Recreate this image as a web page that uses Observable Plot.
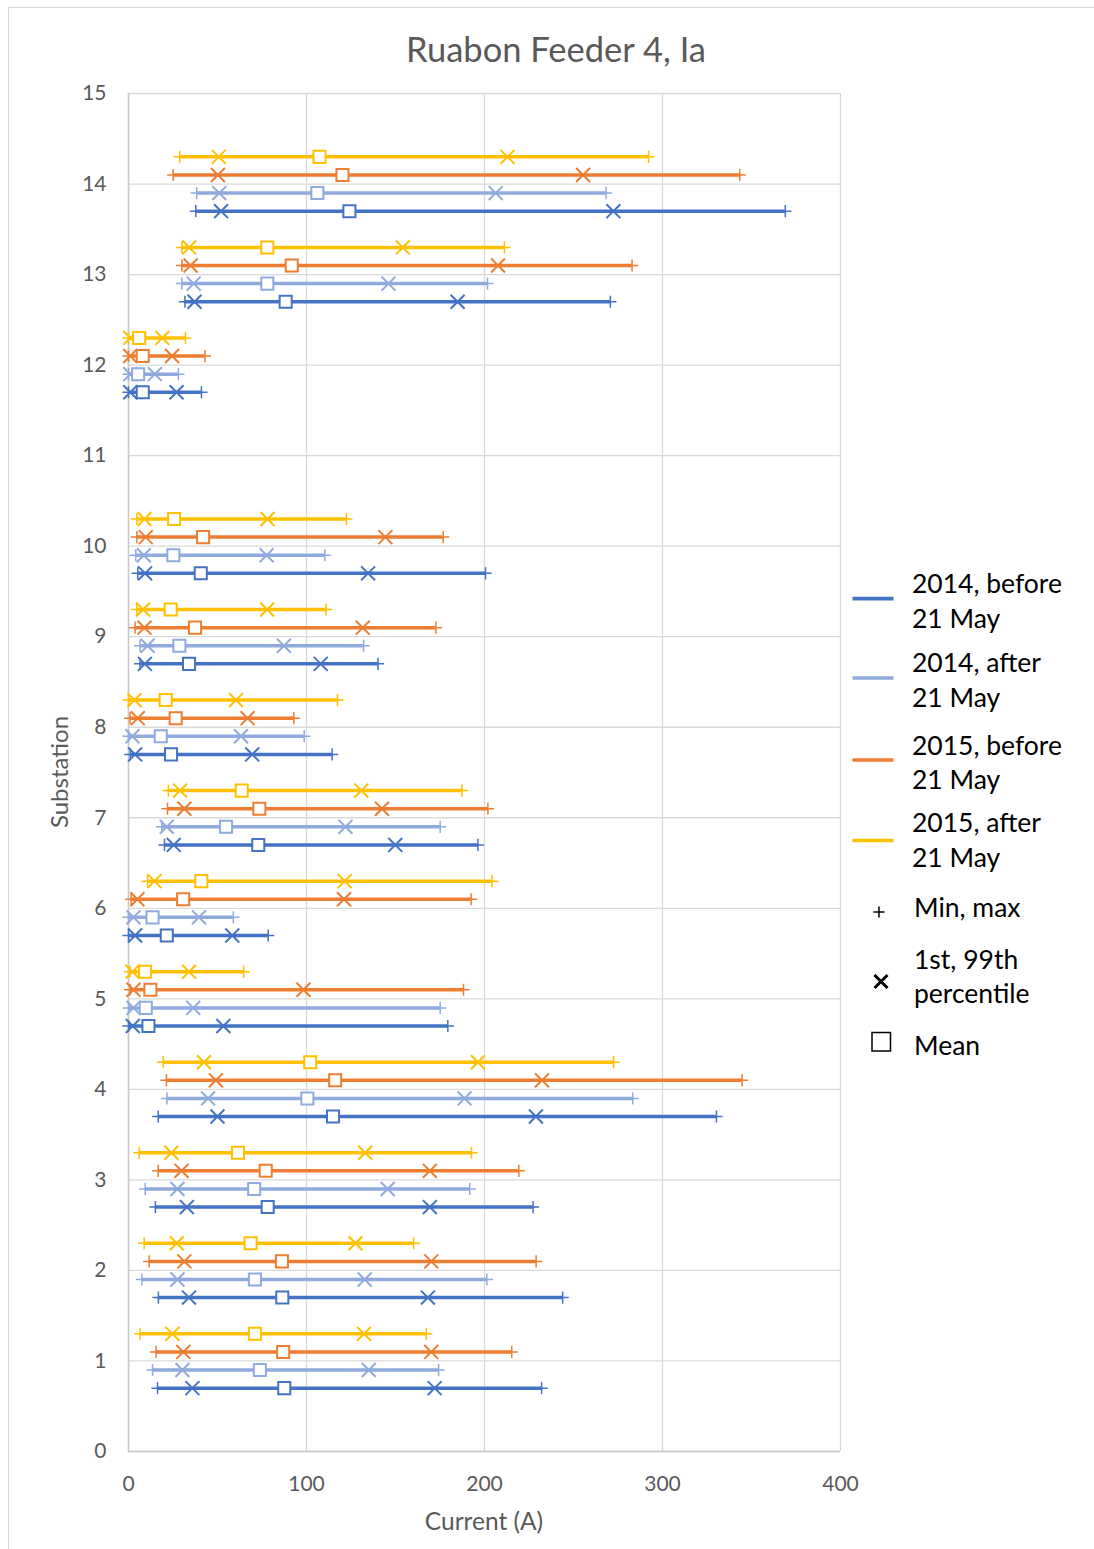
<!DOCTYPE html>
<html>
<head>
<meta charset="utf-8">
<script src="https://cdn.jsdelivr.net/npm/d3@7"></script>
<script src="https://cdn.jsdelivr.net/npm/@observablehq/plot@0.6"></script>
<style>
  html, body { margin: 0; padding: 0; background: #fff; }
  #wrap { position: relative; width: 1094px; height: 1549px; overflow: hidden; font-family: Lato, "Open Sans", sans-serif; }
  #border { position: absolute; left: 8px; top: 7px; width: 1200px; height: 1700px; border: 1.3px solid #d9d9d9; box-sizing: border-box; }
  #chart { position: absolute; left: 0; top: 0; }
  #overlay { position: absolute; left: 0; top: 0; pointer-events: none; }
</style>
</head>
<body>
<div id="wrap">
  <div id="border"></div>
  <div id="chart"></div>
  <svg id="overlay" width="1094" height="1549" xmlns="http://www.w3.org/2000/svg"></svg>
</div>
<script>
// ---- Data ----
const substations = [1, 2, 3, 4, 5, 6, 7, 8, 9, 10, 12, 13, 14];
const seriesNames = ["2014, before 21 May", "2014, after 21 May", "2015, before 21 May", "2015, after 21 May"];
const seriesColors = ["#4472C4", "#8FAADC", "#ED7D31", "#FFC000"];
const xTicks = [0, 100, 200, 300, 400];
const yTicks = [0, 1, 2, 3, 4, 5, 6, 7, 8, 9, 10, 11, 12, 13, 14, 15];

// each entry: [min, 1st percentile, mean, 99th percentile, max] per substation
const s2014before = [
  [16.3, 35.9, 87.5, 172.0, 232.1],
  [16.8, 34.0, 86.4, 168.2, 243.9],
  [15.1, 32.8, 78.2, 169.3, 227.3],
  [16.7, 50.0, 114.9, 228.9, 330.3],
  [0.0, 2.4, 11.2, 53.3, 179.4],
  [0.0, 3.7, 21.5, 58.3, 78.5],
  [20.2, 25.4, 72.9, 149.9, 196.3],
  [1.0, 3.7, 23.9, 69.5, 114.4],
  [6.5, 9.2, 34.0, 108.0, 140.2],
  [5.2, 9.3, 40.6, 134.6, 200.6],
  [0.0, 1.0, 8.0, 27.0, 41.0],
  [31.7, 37.1, 88.3, 184.9, 270.7],
  [37.8, 52.0, 124.1, 272.4, 369.0]
];
const s2014after = [
  [13.5, 30.3, 73.8, 135.0, 174.2],
  [7.5, 27.5, 71.0, 132.7, 201.3],
  [9.4, 27.5, 70.6, 145.6, 191.7],
  [21.6, 44.7, 100.5, 188.8, 283.3],
  [0.0, 2.8, 9.7, 36.4, 175.1],
  [0.0, 2.8, 13.5, 39.6, 58.9],
  [18.7, 21.5, 54.8, 121.9, 175.1],
  [0.0, 2.2, 18.1, 63.2, 98.7],
  [6.5, 10.7, 28.6, 87.3, 132.1],
  [4.1, 8.6, 25.2, 77.6, 110.3],
  [0.0, 1.0, 5.4, 14.8, 28.0],
  [30.0, 36.6, 78.0, 146.1, 201.7],
  [38.3, 51.0, 106.1, 206.3, 268.3]
];
const s2015before = [
  [15.5, 30.8, 86.9, 170.1, 215.3],
  [11.6, 31.4, 86.2, 170.1, 229.0],
  [16.7, 29.8, 77.1, 169.3, 219.3],
  [21.3, 49.1, 116.1, 232.3, 344.7],
  [0.9, 2.8, 12.3, 98.3, 188.2],
  [1.5, 5.0, 30.7, 121.1, 192.5],
  [21.9, 31.4, 73.5, 142.4, 201.9],
  [0.9, 5.2, 26.5, 66.9, 92.9],
  [3.7, 9.0, 37.4, 131.6, 172.7],
  [4.7, 9.7, 41.9, 144.3, 176.8],
  [0.0, 1.0, 8.0, 24.5, 43.0],
  [30.0, 34.9, 91.7, 207.6, 282.9],
  [25.1, 50.2, 120.2, 255.4, 343.4]
];
const s2015after = [
  [6.5, 24.7, 71.0, 132.3, 167.3],
  [8.8, 27.1, 68.6, 127.5, 160.2],
  [6.0, 24.1, 61.5, 133.0, 192.7],
  [19.5, 42.4, 102.1, 196.3, 272.5],
  [0.9, 2.2, 9.3, 34.0, 64.7],
  [10.7, 14.6, 40.9, 121.5, 204.3],
  [22.4, 29.0, 63.6, 130.8, 187.3],
  [0.0, 3.4, 20.9, 60.4, 117.4],
  [4.7, 8.2, 23.7, 77.9, 111.0],
  [4.7, 9.0, 25.6, 78.1, 122.4],
  [0.0, 1.0, 6.0, 19.0, 32.0],
  [30.0, 34.1, 78.0, 154.1, 211.2],
  [28.8, 50.7, 107.3, 212.9, 292.2]
];

// ---- Build table ----
const seriesData = [s2014before, s2014after, s2015before, s2015after];
const rows = [];
seriesData.forEach((vals, s) => {
  vals.forEach((v, k) => {
    rows.push({
      series: seriesNames[s],
      pos: substations[k] + (s - 1.5) * 0.2,
      min: v[0], p1: v[1], mean: v[2], p99: v[3], max: v[4]
    });
  });
});

const chart = Plot.plot({
  width: 1094,
  height: 1549,
  marginLeft: 128,
  marginRight: 254,
  marginTop: 93,
  marginBottom: 98,
  x: { domain: [0, 400] },
  y: { domain: [0, 15] },
  color: { domain: seriesNames, range: seriesColors },
  style: { background: "transparent", fontFamily: "Lato, 'Open Sans', sans-serif", fontSize: "21px", color: "#595959", overflow: "visible" },
  marks: [
    Plot.gridX(xTicks, { stroke: "#d9d9d9", strokeOpacity: 1, strokeWidth: 1.3 }),
    Plot.gridY(yTicks, { stroke: "#d9d9d9", strokeOpacity: 1, strokeWidth: 1.3 }),
    Plot.ruleX([0], { stroke: "#c8c8c8", strokeWidth: 1.5 }),
    Plot.ruleY([0], { stroke: "#c8c8c8", strokeWidth: 1.5 }),
    Plot.axisX({ ticks: xTicks, tickSize: 0, tickPadding: 25, label: null }),
    Plot.axisY({ ticks: yTicks, tickSize: 0, tickPadding: 22, label: null }),
    Plot.ruleY(rows, { y: "pos", x1: "min", x2: "max", stroke: "series", strokeWidth: 3.5 }),
    Plot.dot(rows, { x: "min", y: "pos", symbol: "plus", r: 4, fill: "none", stroke: "series", strokeWidth: 1.5 }),
    Plot.dot(rows, { x: "max", y: "pos", symbol: "plus", r: 4, fill: "none", stroke: "series", strokeWidth: 1.5 }),
    Plot.dot(rows, { x: "p1", y: "pos", symbol: "times", r: 6.4, fill: "none", stroke: "series", strokeWidth: 2 }),
    Plot.dot(rows, { x: "p99", y: "pos", symbol: "times", r: 6.4, fill: "none", stroke: "series", strokeWidth: 2 }),
    Plot.dot(rows, { x: "mean", y: "pos", symbol: "square", r: 6.8, fill: "white", stroke: "series", strokeWidth: 2 })
  ]
});
document.getElementById("chart").appendChild(chart);

// ---- Titles and legend (overlay) ----
const ov = d3.select("#overlay");
const font = "Lato, 'Open Sans', sans-serif";
ov.append("text").attr("x", 556).attr("y", 62).attr("text-anchor", "middle")
  .attr("font-family", font).attr("font-size", 34.5).attr("fill", "#595959").text("Ruabon Feeder 4, Ia");
ov.append("text").attr("x", 484).attr("y", 1530).attr("text-anchor", "middle")
  .attr("font-family", font).attr("font-size", 24.5).attr("fill", "#595959").text("Current (A)");
ov.append("text").attr("transform", "translate(68,772) rotate(-90)").attr("text-anchor", "middle")
  .attr("font-family", font).attr("font-size", 24).attr("fill", "#595959").text("Substation");

const legendLines = [
  { lines: ["2014, before", "21 May"], base: 593, lineY: 598.6 },
  { lines: ["2014, after", "21 May"], base: 672.2, lineY: 678 },
  { lines: ["2015, before", "21 May"], base: 754.7, lineY: 760 },
  { lines: ["2015, after", "21 May"], base: 832.3, lineY: 840.5 }
];
const legendSize = 26.5;
legendLines.forEach((d, i) => {
  ov.append("line").attr("x1", 852.5).attr("x2", 893.5).attr("y1", d.lineY).attr("y2", d.lineY)
    .attr("stroke", seriesColors[i]).attr("stroke-width", 3.6);
  d.lines.forEach((t, j) => {
    ov.append("text").attr("x", 912).attr("y", d.base + j * 34.7)
      .attr("font-family", font).attr("font-size", legendSize).attr("fill", "#000").text(t);
  });
});
// Min, max
ov.append("path").attr("d", "M873.5,912H884.5M879,906.5V917.5").attr("stroke", "#000").attr("stroke-width", 1.5).attr("fill", "none");
ov.append("text").attr("x", 914).attr("y", 917.4).attr("font-family", font).attr("font-size", legendSize).attr("fill", "#000").text("Min, max");
// 1st, 99th percentile
ov.append("path").attr("d", "M874.5,975L887.5,988M874.5,988L887.5,975").attr("stroke", "#000").attr("stroke-width", 3).attr("fill", "none");
ov.append("text").attr("x", 914).attr("y", 969.2).attr("font-family", font).attr("font-size", legendSize).attr("fill", "#000").text("1st, 99th");
ov.append("text").attr("x", 914).attr("y", 1003).attr("font-family", font).attr("font-size", legendSize).attr("fill", "#000").text("percentile");
// Mean
ov.append("rect").attr("x", 872).attr("y", 1032.5).attr("width", 18.5).attr("height", 18.5)
  .attr("stroke", "#000").attr("stroke-width", 1.5).attr("fill", "none");
ov.append("text").attr("x", 914).attr("y", 1055).attr("font-family", font).attr("font-size", legendSize).attr("fill", "#000").text("Mean");
</script>
</body>
</html>
